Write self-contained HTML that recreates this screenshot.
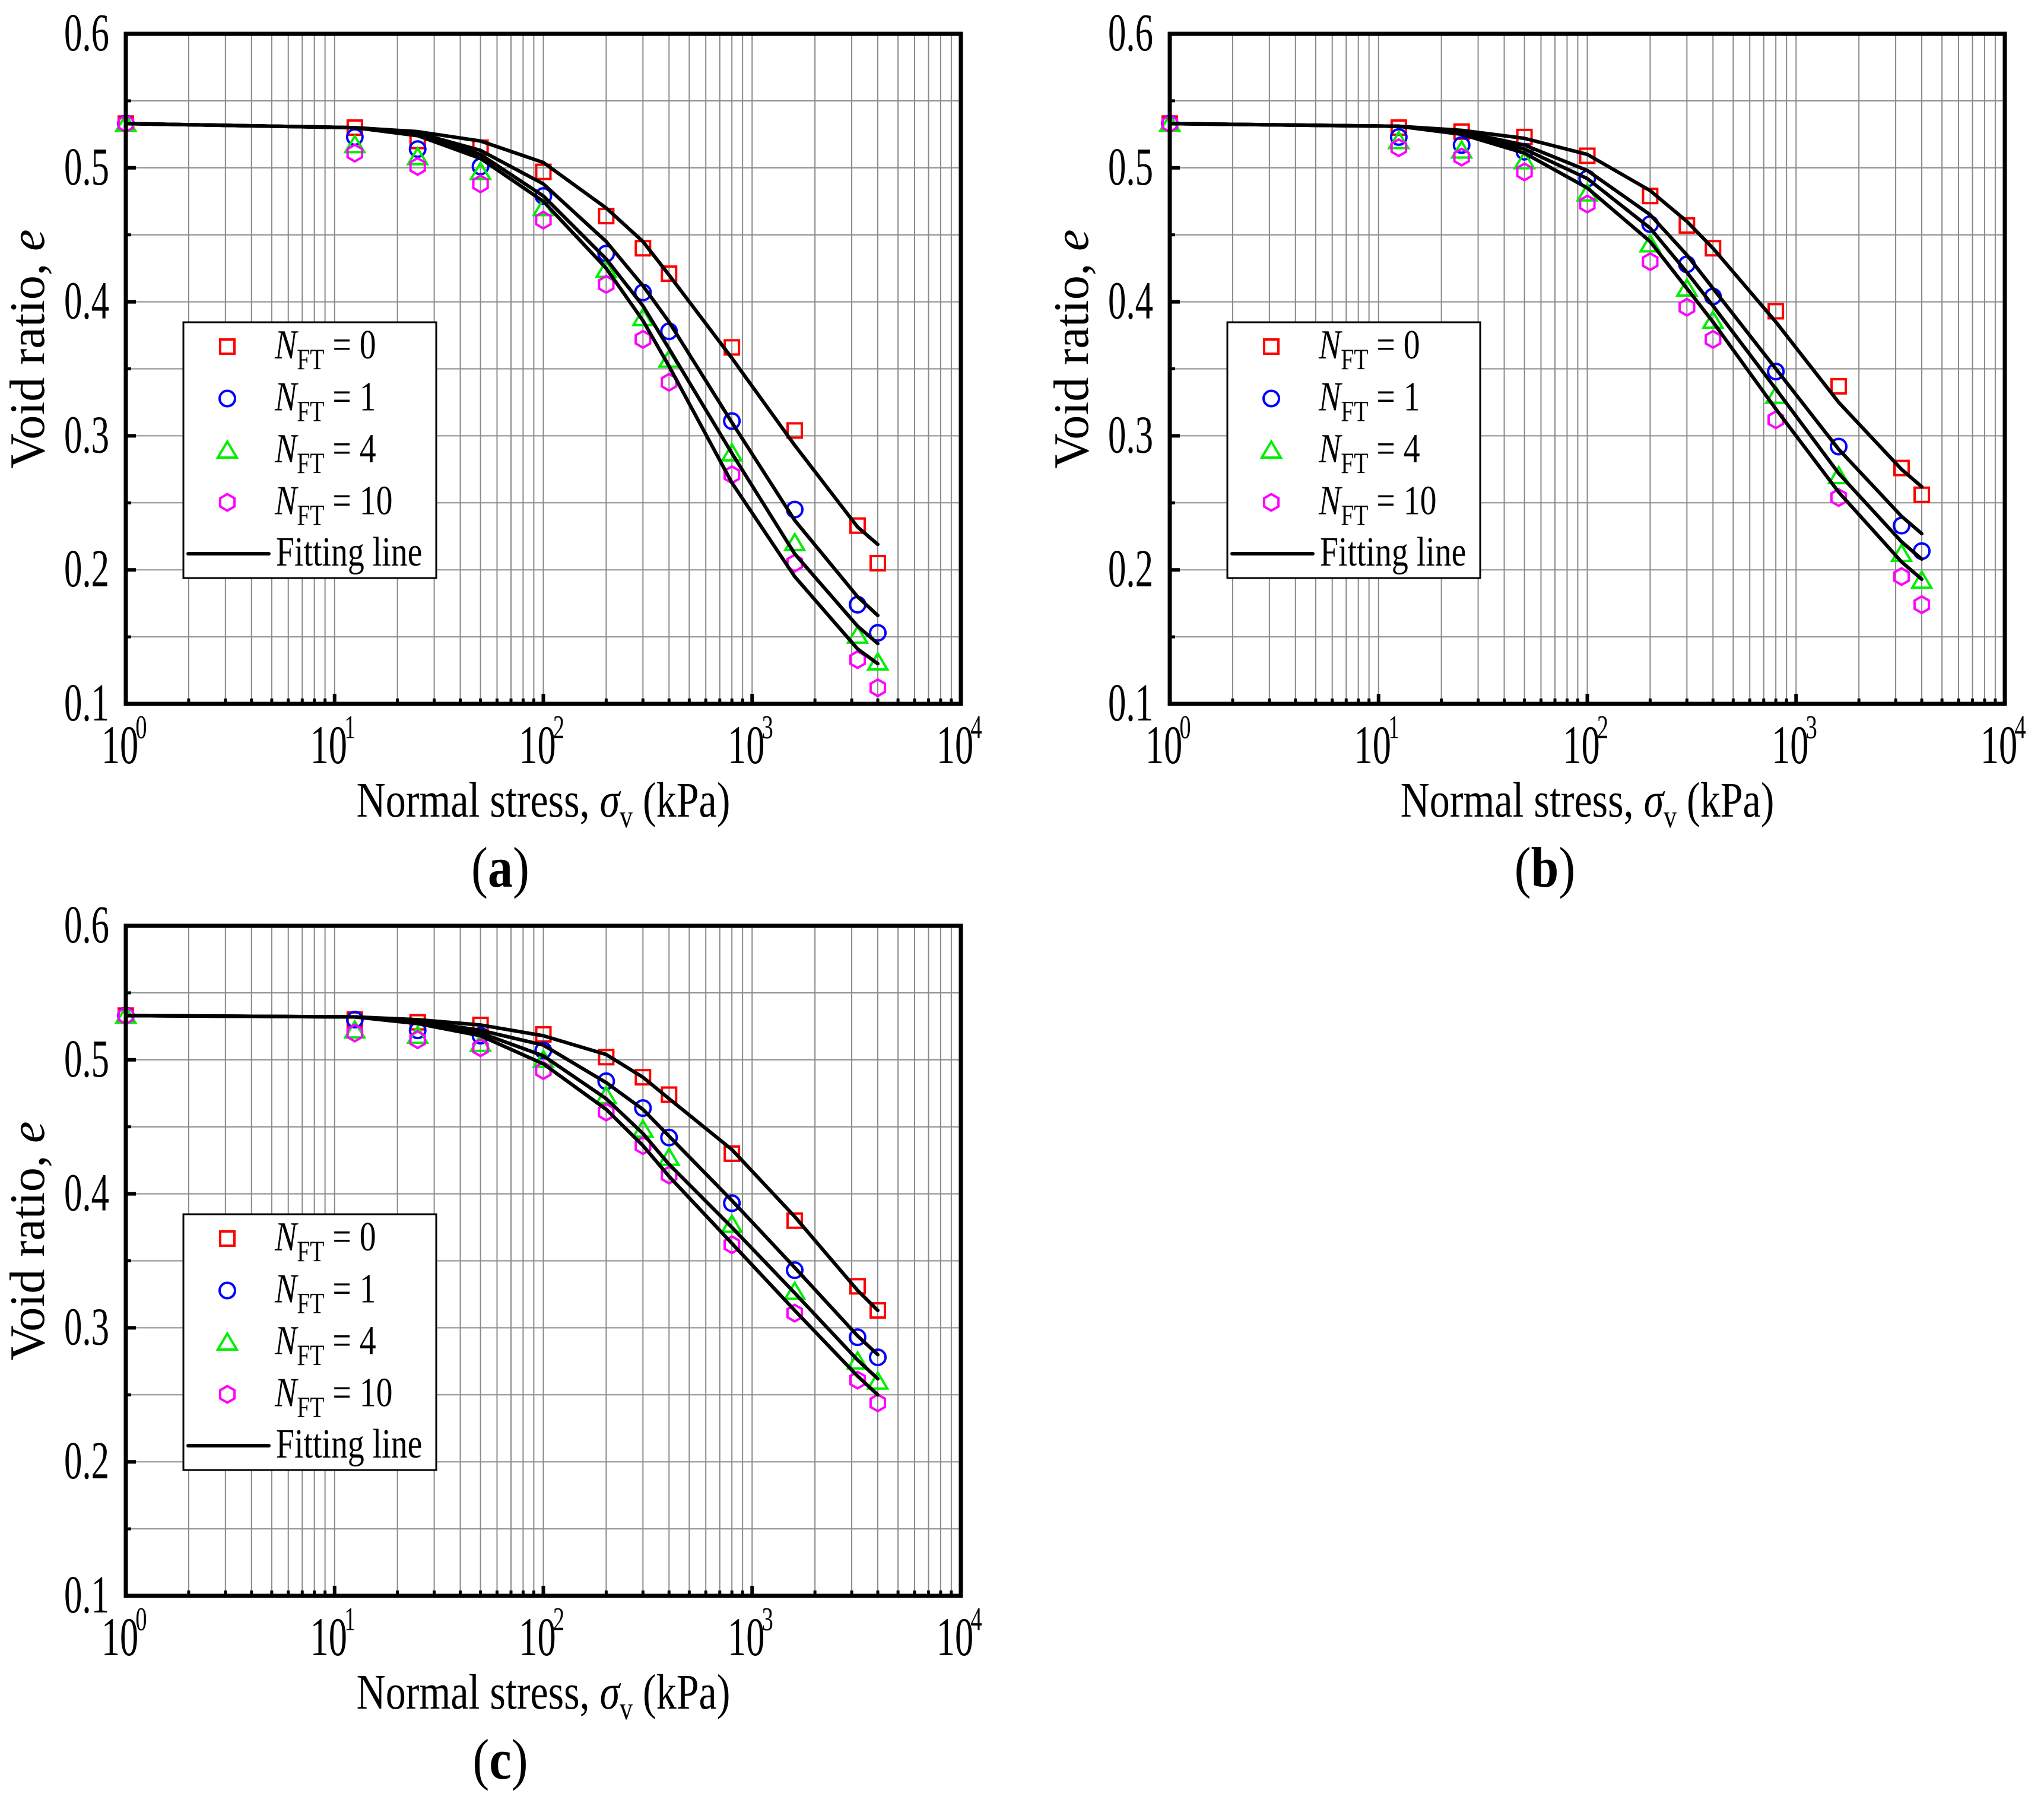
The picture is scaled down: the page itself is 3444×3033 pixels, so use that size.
<!DOCTYPE html>
<html><head><meta charset="utf-8">
<style>
html,body{margin:0;padding:0;background:#fff;}
svg{display:block;font-family:"Liberation Serif","DejaVu Serif",serif;}
</style></head>
<body>
<svg id="fig" width="3444" height="3033" viewBox="0 0 3444 3033" xmlns="http://www.w3.org/2000/svg"></svg>
<script>
// ---- data ----
const stressX = [1, 12.5, 25, 50, 100, 200, 300, 400, 800, 1600, 3200, 4000];
const seriesNames = ["0", "1", "4", "10"];
const yTicks = [0.1, 0.2, 0.3, 0.4, 0.5, 0.6];
const yTickLabels = ["0.1", "0.2", "0.3", "0.4", "0.5", "0.6"];
const xDecades = [0, 1, 2, 3, 4];

const aN0 = [0.533, 0.530, 0.520, 0.515, 0.497, 0.464, 0.440, 0.421, 0.366, 0.304, 0.233, 0.205];
const aN1 = [0.533, 0.523, 0.514, 0.501, 0.479, 0.436, 0.407, 0.378, 0.311, 0.245, 0.174, 0.153];
const aN4 = [0.533, 0.517, 0.508, 0.497, 0.470, 0.424, 0.388, 0.357, 0.287, 0.220, 0.151, 0.131];
const aN10 = [0.533, 0.511, 0.501, 0.488, 0.461, 0.413, 0.372, 0.340, 0.271, 0.205, 0.133, 0.112];
const aF0 = [0.533, 0.530, 0.527, 0.520, 0.504, 0.470, 0.445, 0.420, 0.358, 0.293, 0.232, 0.219];
const aF1 = [0.533, 0.530, 0.526, 0.513, 0.488, 0.445, 0.412, 0.385, 0.310, 0.237, 0.180, 0.166];
const aF4 = [0.533, 0.530, 0.525, 0.510, 0.479, 0.432, 0.397, 0.365, 0.287, 0.212, 0.158, 0.145];
const aF10 = [0.533, 0.530, 0.524, 0.507, 0.475, 0.425, 0.386, 0.352, 0.265, 0.195, 0.141, 0.130];

const bN0 = [0.533, 0.530, 0.527, 0.523, 0.509, 0.479, 0.457, 0.440, 0.393, 0.337, 0.276, 0.256];
const bN1 = [0.533, 0.523, 0.517, 0.512, 0.492, 0.458, 0.428, 0.404, 0.348, 0.292, 0.233, 0.214];
const bN4 = [0.533, 0.520, 0.513, 0.505, 0.481, 0.443, 0.410, 0.386, 0.330, 0.270, 0.212, 0.192];
const bN10 = [0.533, 0.515, 0.508, 0.497, 0.473, 0.430, 0.396, 0.372, 0.312, 0.254, 0.195, 0.174];
const bF0 = [0.533, 0.531, 0.528, 0.522, 0.510, 0.483, 0.460, 0.440, 0.385, 0.325, 0.275, 0.262];
const bF1 = [0.533, 0.531, 0.527, 0.517, 0.498, 0.465, 0.435, 0.410, 0.350, 0.290, 0.240, 0.227];
const bF4 = [0.533, 0.531, 0.526, 0.514, 0.492, 0.455, 0.422, 0.397, 0.335, 0.272, 0.221, 0.208];
const bF10 = [0.533, 0.531, 0.525, 0.511, 0.485, 0.445, 0.410, 0.385, 0.320, 0.258, 0.206, 0.193];

const cN0 = [0.533, 0.530, 0.528, 0.526, 0.519, 0.502, 0.487, 0.474, 0.430, 0.380, 0.331, 0.313];
const cN1 = [0.533, 0.530, 0.522, 0.518, 0.507, 0.484, 0.464, 0.442, 0.393, 0.343, 0.293, 0.278];
const cN4 = [0.533, 0.522, 0.518, 0.512, 0.500, 0.473, 0.448, 0.427, 0.377, 0.327, 0.275, 0.260];
const cN10 = [0.533, 0.520, 0.515, 0.509, 0.492, 0.461, 0.436, 0.414, 0.362, 0.311, 0.261, 0.244];
const cF0 = [0.533, 0.532, 0.530, 0.526, 0.518, 0.504, 0.487, 0.471, 0.433, 0.383, 0.328, 0.313];
const cF1 = [0.533, 0.532, 0.529, 0.522, 0.511, 0.483, 0.463, 0.443, 0.395, 0.345, 0.294, 0.280];
const cF4 = [0.533, 0.532, 0.528, 0.520, 0.503, 0.471, 0.445, 0.422, 0.375, 0.326, 0.276, 0.262];
const cF10 = [0.533, 0.532, 0.527, 0.518, 0.497, 0.463, 0.436, 0.413, 0.363, 0.313, 0.264, 0.250];

const NS = "http://www.w3.org/2000/svg";
const fig = document.getElementById('fig');
const colors = ["#ff0000", "#0000ff", "#00ee00", "#ff00ff"];
const shapes = ["square", "circle", "triangle", "hexagon"];

function mk(tag, attrs, parent) {
  const e = document.createElementNS(NS, tag);
  for (const k in attrs) e.setAttribute(k, attrs[k]);
  parent.appendChild(e);
  return e;
}
function txt(parent, x, y, sx, sy, attrs) {
  const a = Object.assign({x: 0, y: 0, transform: `translate(${x},${y}) scale(${sx},${sy})`}, attrs);
  return mk('text', a, parent);
}

function marker(g, shape, cx, cy, color) {
  let e;
  if (shape === "square") {
    e = mk('rect', {x: cx - 12, y: cy - 12, width: 24, height: 24, fill: 'none', stroke: color, 'stroke-width': 4}, g);
  } else if (shape === "circle") {
    e = mk('circle', {cx: cx, cy: cy, r: 13, fill: 'none', stroke: color, 'stroke-width': 4}, g);
  } else if (shape === "triangle") {
    e = mk('polygon', {points: `${cx},${cy - 15} ${cx + 16},${cy + 12} ${cx - 16},${cy + 12}`, fill: 'none', stroke: color, 'stroke-width': 4}, g);
  } else {
    let p = [];
    for (let i = 0; i < 6; i++) { const a = Math.PI / 2 + i * Math.PI / 3; p.push((cx + 14 * Math.cos(a)).toFixed(1) + ',' + (cy + 14 * Math.sin(a)).toFixed(1)); }
    e = mk('polygon', {points: p.join(' '), fill: 'none', stroke: color, 'stroke-width': 4}, g);
  }
  return e;
}

function panel(id, ox, oy, pts, fits, label, lx, ly) {
  const W = 1407, H = 1129;
  const xs = v => ox + Math.log10(v) / 4 * W;
  const ys = v => oy + (0.6 - v) / 0.5 * H;
  const g = mk('g', {}, fig);
  
  
  const grid = mk('g', {stroke: '#8a8a8a', 'stroke-width': 2}, g);
  
  
  for (let d = 0; d < 4; d++) for (let m = 1; m <= 9; m++) {
    const v = Math.pow(10, d) * m; if (m === 1 && d === 0) continue;
    mk('line', {x1: xs(v), x2: xs(v), y1: oy, y2: oy + H}, grid);
  }
  for (let k = 1; k < 10; k++) { const v = 0.1 + k * 0.05; mk('line', {x1: ox, x2: ox + W, y1: ys(v), y2: ys(v)}, grid); }
  const tk = mk('g', {stroke: '#000'}, g);
  
  
  for (let d = 0; d < 4; d++) for (let m = 2; m <= 9; m++) {
    const v = Math.pow(10, d) * m;
    mk('line', {x1: xs(v), x2: xs(v), y1: oy + H, y2: oy + H - 9, 'stroke-width': 5}, tk);
  }
  xDecades.forEach(d => mk('line', {x1: xs(Math.pow(10, d)), x2: xs(Math.pow(10, d)), y1: oy + H, y2: oy + H - 17, 'stroke-width': 6}, tk));
  yTicks.forEach(v => mk('line', {x1: ox, x2: ox + 17, y1: ys(v), y2: ys(v), 'stroke-width': 6}, tk));
  for (let k = 0; k < 5; k++) { const v = 0.15 + k * 0.1; mk('line', {x1: ox, x2: ox + 9, y1: ys(v), y2: ys(v), 'stroke-width': 5}, tk); }
  pts.forEach((arr, si) => {
    const sg = mk('g', {}, g);
    
    
    arr.forEach((v, i) => marker(sg, shapes[si], xs(stressX[i]), ys(v), colors[si]));
  });
  fits.forEach((arr, si) => {
    const pl = mk('polyline', {points: arr.map((v, i) => xs(stressX[i]).toFixed(1) + ',' + ys(v).toFixed(1)).join(' '), fill: 'none', stroke: '#000', 'stroke-width': 6, 'stroke-linejoin': 'round', 'stroke-linecap': 'round'}, g);
    
    
  });
  const fr = mk('rect', {x: ox, y: oy, width: W, height: H, fill: 'none', stroke: '#000', 'stroke-width': 7}, g);
  
  
  yTicks.forEach((v, i) => {
    const t = txt(g, ox - 28, ys(v) + 28, 0.8, 1.18, {'text-anchor': 'end', 'font-size': 76});
    t.textContent = yTickLabels[i];
    
    
  });
  xDecades.forEach(d => {
    const t = txt(g, xs(Math.pow(10, d)) - 10, oy + H + 100, 0.8, 1.18, {'text-anchor': 'middle', 'font-size': 78});
    t.textContent = '10';
    
    
    const s = txt(g, xs(Math.pow(10, d)) + 26, oy + H + 58, 0.8, 1.18, {'text-anchor': 'middle', 'font-size': 48});
    s.textContent = String(d);
    
    
  });
  const xt = txt(g, ox + W / 2, oy + H + 190, 0.81, 1.0, {'text-anchor': 'middle', 'font-size': 84});
  
  
  xt.innerHTML = 'Normal stress, <tspan font-style="italic">σ</tspan><tspan font-size="54" dy="18">v</tspan><tspan dy="-18"> (kPa)</tspan>';
  const yt = mk('text', {x: 0, y: 0, 'text-anchor': 'middle', 'font-size': 84, transform: `translate(${ox - 138},${oy + 531}) rotate(-90) scale(0.98,1)`}, g);
  
  
  yt.innerHTML = 'Void ratio, <tspan font-style="italic">e</tspan>';
  const lg = mk('g', {}, g);
  
  
  const bx = ox + 97, by = oy + 486;
  mk('rect', {x: bx, y: by, width: 426, height: 431, fill: '#fff', stroke: '#000', 'stroke-width': 3}, lg);
  seriesNames.forEach((n, i) => {
    const cy = by + 41 + i * 87.5;
    const e = mk('g', {}, lg);
    
    
    marker(e, shapes[i], bx + 74, cy, colors[i]);
    const t = txt(e, bx + 154, cy + 20, 0.9, 1.12, {'font-size': 62});
    t.innerHTML = '<tspan font-style="italic">N</tspan><tspan font-size="44" dy="16">FT</tspan><tspan dy="-16"> = ' + n + '</tspan>';
  });
  const fe = mk('g', {}, lg);
  
  
  mk('line', {x1: bx + 8, x2: bx + 144, y1: by + 390, y2: by + 390, stroke: '#000', 'stroke-width': 6, 'stroke-linecap': 'round'}, fe);
  const ft = txt(fe, bx + 156, by + 410, 0.9, 1.12, {'font-size': 62});
  ft.textContent = 'Fitting line';
  const pl = txt(g, lx, ly, 1.0, 1.15, {'text-anchor': 'middle', 'font-size': 84});
  
  
  pl.innerHTML = '(<tspan font-weight="bold">' + label + '</tspan>)';
}

panel('a', 212, 57, [aN0, aN1, aN4, aN10], [aF0, aF1, aF4, aF10], 'a', 843, 1494);
panel('b', 1971, 57, [bN0, bN1, bN4, bN10], [bF0, bF1, bF4, bF10], 'b', 2603, 1494);
panel('c', 212, 1560, [cN0, cN1, cN4, cN10], [cF0, cF1, cF4, cF10], 'c', 843, 2997);
</script>
</body></html>
